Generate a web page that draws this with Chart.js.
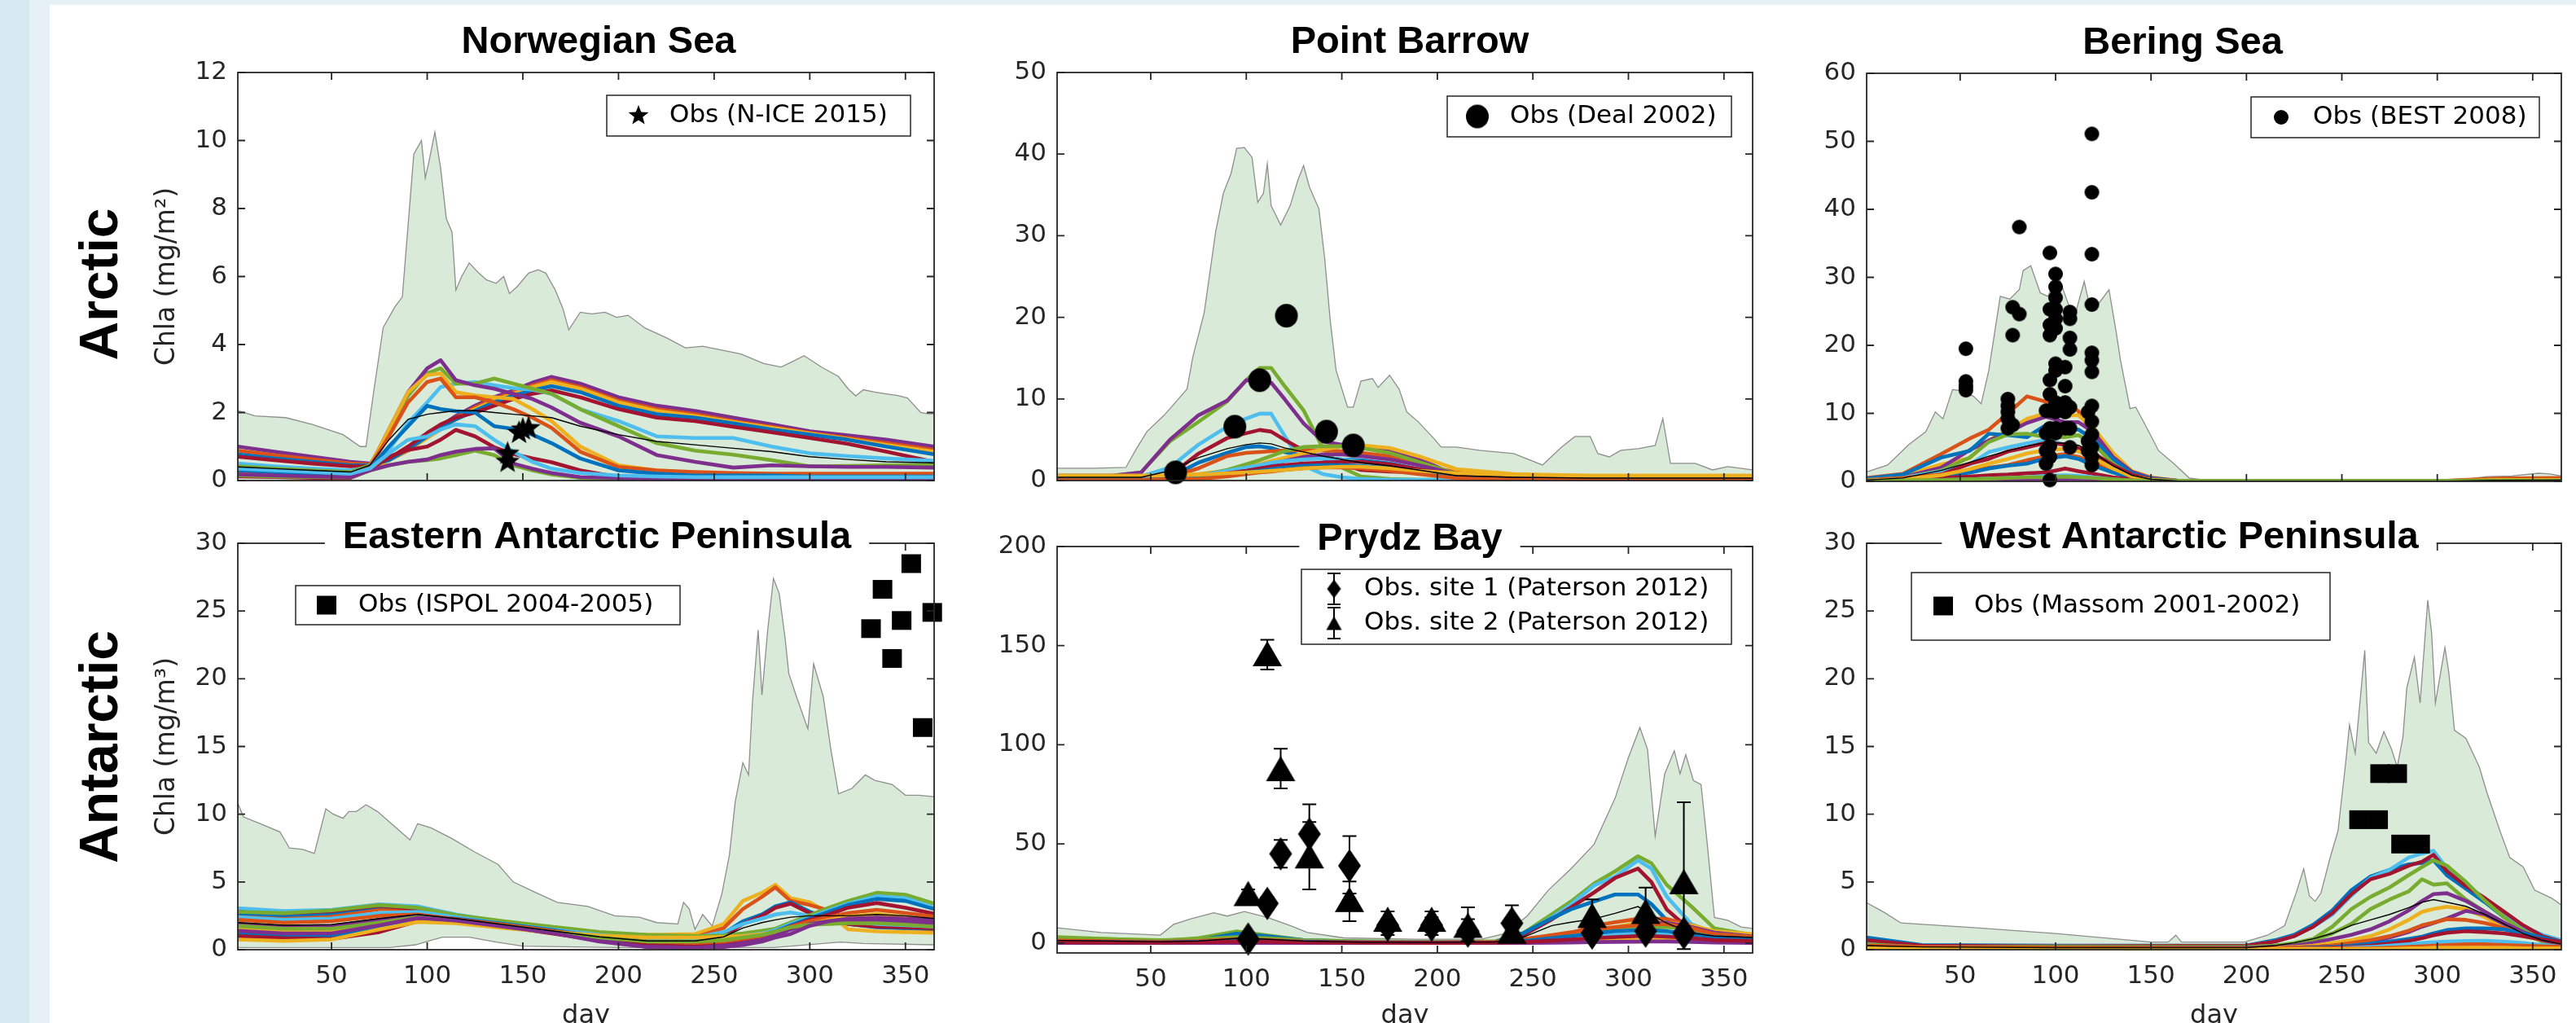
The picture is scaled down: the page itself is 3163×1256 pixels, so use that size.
<!DOCTYPE html>
<html><head><meta charset="utf-8"><title>Chla seasonal cycles</title>
<script src="https://cdn.jsdelivr.net/npm/chart.js@4.4.1/dist/chart.umd.min.js"></script>
<style>
html,body{margin:0;padding:0}
body{width:3163px;height:1256px;position:relative;overflow:hidden;background:#d6e9f0}
#band{position:absolute;left:36px;top:0;width:3127px;height:1256px;background:#e5f1f5}
#sheet{position:absolute;left:61px;top:6px;width:3102px;height:1250px;background:#fff}
canvas{position:absolute;left:0;top:0}
</style></head><body>
<div id="band"></div><div id="sheet"></div>
<canvas id="c1" width="3163" height="1256"></canvas>
<canvas id="c2" width="3163" height="1256"></canvas>
<canvas id="c3" width="3163" height="1256"></canvas>
<canvas id="c4" width="3163" height="1256"></canvas>
<canvas id="c5" width="3163" height="1256"></canvas>
<canvas id="c6" width="3163" height="1256"></canvas>
<script>
// ---------------- DATA ----------------
const dayTicks = [50, 100, 150, 200, 250, 300, 350];

// Norwegian Sea
const nsTitle = 'Norwegian Sea';
const nsYTicks = [0, 2, 4, 6, 8, 10, 12];
const nsEnvDays = [1, 10, 26, 40, 56, 65, 68, 72, 77, 83, 87, 90, 93, 95, 97, 99, 101, 104, 107, 110, 113, 115, 118, 122, 127, 131, 136, 140, 143, 147, 153, 158, 162, 167, 171, 174, 180, 186, 193, 199, 205, 214, 225, 235, 244, 252, 264, 276, 285, 291, 297, 306, 315, 320, 324, 328, 334, 340, 346, 351, 358, 362, 365];
const nsEnvMax = [2.06, 1.9, 1.85, 1.65, 1.35, 1.0, 1.0, 2.6, 4.5, 5.1, 5.4, 7.5, 9.6, 9.8, 10.0, 8.9, 9.4, 10.25, 9.2, 7.7, 7.3, 5.6, 6.0, 6.4, 6.1, 5.9, 5.8, 6.0, 5.5, 5.7, 6.1, 6.2, 6.1, 5.6, 5.05, 4.43, 4.95, 4.9, 4.95, 4.8, 4.86, 4.48, 4.2, 3.9, 3.95, 3.86, 3.72, 3.44, 3.34, 3.5, 3.67, 3.34, 3.06, 2.7, 2.49, 2.67, 2.6, 2.55, 2.5, 2.43, 2.0, 1.96, 1.96];
const nsDays = [1, 20, 40, 60, 70, 80, 90, 100, 107, 115, 125, 135, 145, 155, 165, 180, 200, 220, 240, 260, 280, 300, 320, 340, 365];
const nsL1 = [1.0, 0.85, 0.7, 0.55, 0.5, 0.62, 0.9, 1.3, 1.6, 1.9, 2.2, 2.45, 2.65, 2.88, 3.05, 2.85, 2.45, 2.2, 2.05, 1.85, 1.65, 1.45, 1.33, 1.2, 1.0];
const nsL2 = [0.88, 0.75, 0.62, 0.5, 0.47, 0.6, 0.88, 1.27, 1.55, 1.85, 2.15, 2.4, 2.6, 2.8, 2.95, 2.75, 2.35, 2.1, 1.95, 1.75, 1.58, 1.4, 1.25, 1.1, 0.9];
const nsL3 = [0.3, 0.25, 0.2, 0.2, 0.3, 0.6, 0.9, 1.25, 1.5, 1.8, 2.1, 2.35, 2.55, 2.75, 2.9, 2.7, 2.3, 2.05, 1.9, 1.72, 1.55, 1.38, 1.22, 1.05, 0.85];
const nsL4 = [0.77, 0.65, 0.55, 0.45, 0.45, 0.6, 0.92, 1.3, 1.55, 1.8, 2.05, 2.3, 2.5, 2.65, 2.78, 2.6, 2.2, 1.95, 1.85, 1.68, 1.5, 1.35, 1.2, 1.0, 0.77];
const nsL5 = [0.7, 0.6, 0.5, 0.42, 0.42, 0.65, 1.0, 1.4, 1.65, 1.85, 2.0, 2.2, 2.4, 2.55, 2.65, 2.45, 2.1, 1.85, 1.75, 1.58, 1.42, 1.25, 1.08, 0.85, 0.55];
const nsL6 = [0.5, 0.42, 0.35, 0.3, 0.4, 0.9, 1.7, 2.3, 2.75, 2.85, 2.9, 2.8, 2.72, 2.67, 2.55, 2.1, 1.75, 1.3, 1.25, 1.25, 1.0, 0.8, 0.72, 0.65, 0.58];
const nsL7 = [0.42, 0.35, 0.3, 0.25, 0.45, 1.4, 2.5, 3.15, 3.3, 2.85, 2.85, 3.0, 2.85, 2.7, 2.55, 2.1, 1.6, 1.1, 0.88, 0.76, 0.6, 0.42, 0.43, 0.45, 0.46];
const nsL8 = [0.25, 0.2, 0.15, 0.12, 0.4, 1.5, 2.6, 3.3, 3.54, 2.95, 2.8, 2.7, 2.55, 2.4, 2.15, 1.7, 1.3, 0.75, 0.55, 0.38, 0.45, 0.42, 0.4, 0.4, 0.38];
const nsL9 = [0.15, 0.12, 0.1, 0.1, 0.4, 1.5, 2.6, 3.1, 3.15, 2.6, 2.5, 2.45, 2.4, 2.1, 1.75, 1.0, 0.45, 0.3, 0.22, 0.2, 0.15, 0.15, 0.15, 0.15, 0.15];
const nsL10 = [0.2, 0.15, 0.12, 0.1, 0.4, 1.3, 2.3, 2.9, 3.0, 2.45, 2.45, 2.3, 2.1, 1.85, 1.55, 0.85, 0.4, 0.3, 0.25, 0.22, 0.2, 0.2, 0.2, 0.2, 0.2];
const nsL11 = [0.3, 0.25, 0.2, 0.18, 0.35, 1.0, 1.6, 2.2, 2.1, 2.04, 2.0, 1.6, 1.52, 1.35, 1.1, 0.65, 0.3, 0.2, 0.15, 0.15, 0.15, 0.12, 0.12, 0.12, 0.12];
const nsL12 = [0.12, 0.1, 0.08, 0.08, 0.3, 0.7, 0.9, 1.0, 1.2, 1.49, 1.3, 0.98, 0.78, 0.65, 0.54, 0.3, 0.1, 0.06, 0.05, 0.05, 0.05, 0.05, 0.05, 0.05, 0.05];
const nsL13 = [0.15, 0.12, 0.1, 0.1, 0.3, 0.45, 0.55, 0.6, 0.65, 0.75, 0.88, 0.75, 0.45, 0.3, 0.18, 0.08, 0.05, 0.05, 0.05, 0.05, 0.05, 0.05, 0.05, 0.05, 0.05];
const nsL14 = [0.18, 0.15, 0.12, 0.1, 0.3, 0.45, 0.55, 0.62, 0.75, 0.85, 0.93, 0.95, 0.5, 0.35, 0.22, 0.1, 0.08, 0.06, 0.06, 0.06, 0.06, 0.06, 0.06, 0.06, 0.06];
const nsL15 = [0.35, 0.3, 0.25, 0.2, 0.35, 0.8, 1.2, 1.3, 1.5, 1.65, 1.6, 1.2, 0.85, 0.55, 0.35, 0.22, 0.15, 0.12, 0.1, 0.1, 0.1, 0.1, 0.1, 0.1, 0.1];
const nsMean = [0.4, 0.35, 0.3, 0.25, 0.45, 1.2, 1.8, 1.95, 2.0, 2.05, 2.06, 2.0, 1.95, 1.9, 1.85, 1.6, 1.35, 1.15, 1.05, 0.95, 0.85, 0.7, 0.62, 0.55, 0.52];
const nsObsLabel = 'Obs (N-ICE 2015)';
const nsObsDays = [142, 142, 148, 150, 153];
const nsObsVals = [0.79, 0.55, 1.4, 1.5, 1.54];

// Point Barrow
const pbTitle = 'Point Barrow';
const pbYTicks = [0, 10, 20, 30, 40, 50];
const pbEnvDays = [1, 20, 37, 42, 48, 57, 63, 69, 72, 78, 84, 88, 92, 95, 99, 103, 106, 109, 111, 113, 118, 123, 127, 130, 133, 138, 141, 144, 147, 153, 156, 160, 166, 169, 175, 180, 184, 190, 198, 202, 210, 222, 240, 255, 265, 272, 280, 284, 290, 296, 305, 314, 318, 322, 335, 344, 352, 365];
const pbEnvMax = [1.5, 1.5, 1.6, 3.7, 6.0, 8.0, 9.6, 11.2, 15.1, 20.6, 30.5, 35.2, 37.6, 40.7, 40.8, 39.6, 34.1, 35.2, 38.8, 33.7, 31.3, 33.7, 36.8, 38.6, 36.0, 33.3, 27.3, 19.5, 13.5, 9.0, 9.0, 12.2, 12.5, 11.4, 12.9, 11.2, 8.4, 7.2, 5.2, 4.1, 4.1, 3.7, 3.3, 1.9, 4.1, 5.4, 5.4, 3.3, 2.9, 3.7, 3.9, 4.3, 7.6, 2.1, 2.1, 1.3, 1.7, 1.3];
const pbDays = [1, 30, 45, 60, 75, 90, 100, 107, 113, 120, 130, 140, 150, 160, 175, 190, 210, 240, 280, 320, 365];
const pbL1 = [0.6, 0.6, 1.0, 4.8, 7.2, 9.7, 12.3, 13.8, 13.8, 11.6, 8.6, 4.0, 1.6, 0.5, 0.2, 0.1, 0.1, 0.1, 0.1, 0.1, 0.1];
const pbL2 = [0.6, 0.6, 1.0, 5.0, 8.0, 9.8, 12.3, 12.1, 12.0, 10.0, 7.0, 4.8, 4.4, 4.2, 3.7, 2.7, 0.6, 0.4, 0.2, 0.2, 0.2];
const pbL3 = [0.5, 0.5, 0.5, 1.6, 4.4, 6.6, 7.6, 8.2, 8.2, 5.5, 1.8, 0.8, 0.4, 0.2, 0.1, 0.1, 0.1, 0.1, 0.1, 0.1, 0.1];
const pbL4 = [0.3, 0.3, 0.3, 0.6, 3.3, 5.2, 5.8, 6.2, 6.0, 5.0, 3.7, 2.7, 2.0, 1.3, 1.1, 1.0, 0.3, 0.2, 0.2, 0.2, 0.2];
const pbL5 = [0.3, 0.3, 0.3, 0.4, 2.2, 3.4, 4.1, 4.2, 4.0, 3.5, 3.0, 2.8, 2.6, 2.5, 2.1, 1.4, 0.6, 0.3, 0.3, 0.3, 0.3];
const pbL6 = [0.3, 0.3, 0.3, 0.4, 1.5, 3.0, 3.4, 3.5, 3.6, 3.7, 3.7, 3.7, 3.6, 3.4, 3.0, 2.0, 1.0, 0.6, 0.5, 0.5, 0.5];
const pbL7 = [0.6, 0.6, 0.6, 0.6, 0.8, 1.2, 1.6, 2.0, 2.4, 2.8, 3.3, 3.8, 4.2, 4.3, 4.0, 3.0, 1.4, 0.8, 0.6, 0.6, 0.6];
const pbL8 = [0.2, 0.2, 0.2, 0.3, 0.6, 1.3, 2.0, 2.5, 3.0, 3.6, 4.1, 4.2, 4.2, 4.0, 3.4, 2.3, 0.8, 0.3, 0.2, 0.2, 0.2];
const pbL9 = [0.1, 0.1, 0.1, 0.2, 0.4, 0.8, 1.2, 1.6, 2.0, 2.4, 2.9, 3.2, 3.2, 3.0, 2.6, 1.9, 0.8, 0.3, 0.2, 0.2, 0.2];
const pbL10 = [0.2, 0.2, 0.2, 0.3, 0.6, 1.2, 1.6, 1.9, 2.2, 2.4, 2.6, 2.7, 2.6, 2.3, 1.8, 1.2, 0.5, 0.2, 0.2, 0.2, 0.2];
const pbL11 = [0.1, 0.1, 0.1, 0.2, 0.4, 0.9, 1.2, 1.5, 1.7, 1.9, 2.1, 2.2, 2.3, 2.3, 2.0, 1.4, 0.5, 0.2, 0.1, 0.1, 0.1];
const pbL12 = [0.1, 0.1, 0.1, 0.1, 0.3, 0.7, 1.0, 1.2, 1.4, 1.6, 1.8, 1.9, 1.9, 1.8, 1.5, 1.0, 0.4, 0.1, 0.1, 0.1, 0.1];
const pbL13 = [0.05, 0.05, 0.05, 0.1, 0.2, 0.5, 0.8, 1.0, 1.1, 1.3, 1.5, 1.6, 1.6, 1.5, 1.2, 0.8, 0.3, 0.1, 0.1, 0.1, 0.1];
const pbL14 = [0.6, 0.6, 0.6, 0.6, 0.7, 0.9, 1.0, 1.1, 1.2, 1.3, 1.5, 1.6, 1.7, 1.7, 1.5, 1.2, 0.9, 0.7, 0.6, 0.6, 0.6];
const pbMean = [0.4, 0.4, 0.4, 1.2, 2.8, 3.9, 4.4, 4.6, 4.5, 4.0, 3.5, 3.0, 2.6, 2.2, 1.8, 1.3, 0.6, 0.4, 0.3, 0.3, 0.3];
const pbObsLabel = 'Obs (Deal 2002)';
const pbObsDays = [63, 94, 107, 121, 142, 156];
const pbObsVals = [1.0, 6.6, 12.3, 20.2, 6.0, 4.3];

// Bering Sea
const bsTitle = 'Bering Sea';
const bsYTicks = [0, 10, 20, 30, 40, 50, 60];
const bsEnvDays = [1, 12, 23, 32, 37, 41, 46, 51, 57, 61, 65, 71, 76, 81, 83, 87, 92, 96, 101, 107, 111, 115, 118, 123, 128, 132, 134, 139, 142, 147, 154, 162, 170, 179, 240, 309, 326, 339, 353, 359, 365];
const bsEnvMax = [1.4, 2.4, 5.4, 7.3, 10.2, 9.2, 13.5, 13.3, 12.5, 11.4, 16.3, 27.2, 26.8, 28.2, 31.0, 31.7, 27.7, 27.2, 30.5, 25.8, 25.3, 29.4, 25.6, 26.3, 28.2, 21.5, 17.8, 10.7, 10.9, 8.3, 4.5, 2.6, 0.5, 0.15, 0.1, 0.1, 0.7, 0.8, 1.2, 1.1, 0.8];
const bsDays = [1, 20, 40, 55, 65, 75, 85, 95, 105, 112, 120, 130, 140, 150, 165, 200, 300, 330, 365];
const bsL1 = [0.5, 1.1, 4.0, 6.3, 7.6, 10.0, 12.5, 11.7, 11.8, 10.3, 6.7, 3.8, 1.4, 0.5, 0.05, 0.02, 0.02, 0.3, 0.4];
const bsL2 = [0.3, 0.8, 2.5, 3.4, 6.0, 7.5, 9.2, 10.0, 9.7, 9.7, 7.8, 4.2, 1.5, 0.6, 0.05, 0.02, 0.02, 0.2, 0.3];
const bsL3 = [0.2, 0.6, 2.0, 4.6, 6.0, 7.2, 8.6, 9.5, 8.7, 8.7, 7.2, 3.6, 1.4, 0.5, 0.05, 0.02, 0.02, 0.1, 0.2];
const bsL4 = [0.4, 1.0, 3.5, 4.5, 7.0, 6.8, 6.5, 8.3, 7.9, 7.6, 6.2, 3.3, 1.2, 0.4, 0.05, 0.02, 0.02, 0.2, 0.3];
const bsL5 = [0.2, 0.5, 1.6, 3.5, 5.8, 6.9, 7.0, 6.5, 6.5, 6.8, 5.5, 2.6, 0.9, 0.3, 0.05, 0.02, 0.02, 0.2, 0.2];
const bsL6 = [0.2, 0.5, 1.5, 2.5, 4.3, 5.0, 5.6, 6.1, 5.4, 4.8, 3.8, 2.2, 1.0, 0.3, 0.05, 0.02, 0.02, 0.1, 0.2];
const bsL7 = [0.1, 0.3, 1.0, 2.6, 3.3, 4.4, 5.0, 5.7, 5.4, 4.9, 4.1, 2.4, 1.0, 0.3, 0.05, 0.02, 0.02, 0.1, 0.1];
const bsL8 = [0.2, 0.5, 1.0, 1.5, 2.0, 2.4, 3.1, 3.7, 4.0, 3.6, 2.7, 1.7, 0.7, 0.2, 0.05, 0.02, 0.02, 0.4, 0.5];
const bsL9 = [0.1, 0.3, 0.8, 1.3, 1.9, 2.3, 2.6, 3.4, 3.7, 3.3, 2.3, 1.3, 0.5, 0.2, 0.05, 0.02, 0.02, 0.1, 0.2];
const bsL10 = [0.05, 0.2, 0.5, 0.7, 0.9, 1.0, 1.2, 1.3, 1.9, 1.5, 1.1, 0.6, 0.3, 0.1, 0.02, 0.02, 0.02, 0.1, 0.1];
const bsL11 = [0.05, 0.1, 0.2, 0.3, 0.4, 0.5, 0.6, 0.8, 0.9, 0.8, 0.6, 0.3, 0.1, 0.05, 0.02, 0.02, 0.02, 0.05, 0.1];
const bsL12 = [0.1, 0.3, 0.9, 1.8, 2.6, 3.3, 4.1, 4.6, 4.8, 4.4, 3.4, 1.9, 0.7, 0.2, 0.05, 0.02, 0.02, 0.2, 0.2];
const bsL13 = [0.02, 0.05, 0.1, 0.15, 0.2, 0.25, 0.3, 0.35, 0.4, 0.35, 0.3, 0.2, 0.1, 0.05, 0.02, 0.02, 0.02, 0.05, 0.05];
const bsL14 = [0.05, 0.1, 0.2, 0.3, 0.4, 0.5, 0.6, 0.6, 0.7, 0.6, 0.5, 0.3, 0.15, 0.08, 0.05, 0.05, 0.05, 0.1, 0.1];
const bsMean = [0.2, 0.5, 1.6, 2.8, 3.7, 4.5, 5.2, 5.7, 5.6, 5.3, 4.2, 2.3, 0.9, 0.3, 0.04, 0.02, 0.02, 0.15, 0.2];
const bsObsLabel = 'Obs (BEST 2008)';
const bsObsDays = [53, 53, 53, 53, 75, 75, 75, 75, 75, 77.5, 77.5, 77.5, 81, 81, 95, 95, 95, 95, 97, 97, 97, 97, 97, 97, 97, 97, 97, 97, 97, 100, 100, 100, 100, 100, 100, 100, 100, 100, 100, 100, 100, 105, 105, 105, 105, 105, 107.5, 107.5, 107.5, 107.5, 107.5, 107.5, 107.5, 117, 117, 117, 119, 119, 119, 119, 119, 119, 119, 119, 119, 119, 119, 119, 119];
const bsObsVals = [19.5, 14.7, 13.4, 14.0, 12.1, 11.1, 10.2, 9.2, 7.8, 25.6, 21.5, 8.3, 37.4, 24.6, 10.4, 7.1, 4.5, 2.6, 33.6, 25.3, 23.0, 21.5, 14.9, 12.8, 10.4, 7.8, 5.2, 3.6, 0.2, 30.5, 28.6, 27.0, 25.3, 23.9, 22.5, 17.3, 16.3, 11.6, 10.2, 7.8, 7.1, 16.8, 14.0, 11.6, 10.2, 7.8, 24.9, 23.9, 21.1, 19.4, 10.9, 7.8, 5.0, 10.2, 5.9, 4.5, 51.1, 42.5, 33.4, 26.0, 18.9, 17.8, 16.1, 11.1, 8.8, 6.9, 5.0, 3.6, 2.4];

// Eastern Antarctic Peninsula
const eaTitle = 'Eastern Antarctic Peninsula';
const eaYTicks = [0, 5, 10, 15, 20, 25, 30];
const eaEnvDays = [1, 4, 11, 23, 28, 35, 41, 47, 51, 56, 59, 63, 68, 74, 83, 91, 95, 102, 113, 125, 137, 145, 157, 168, 184, 198, 211, 220, 231, 234, 237, 240, 244, 249, 254, 258, 261, 265, 268, 270, 273, 275, 278, 281, 284, 287, 289, 293, 299, 302, 307, 311, 315, 322, 329, 334, 343, 350, 357, 365];
const eaEnvMax = [10.8, 9.8, 9.4, 8.7, 7.5, 7.4, 7.1, 10.4, 10.0, 9.7, 10.2, 10.2, 10.7, 10.2, 9.1, 8.1, 9.3, 9.0, 8.2, 7.2, 6.3, 5.0, 4.2, 3.5, 3.2, 2.5, 2.4, 2.0, 1.9, 3.5, 3.0, 1.5, 2.6, 1.75, 4.1, 7.0, 10.9, 13.8, 12.9, 18.2, 23.6, 18.8, 23.6, 27.4, 26.3, 23.1, 20.4, 18.7, 16.3, 21.1, 18.7, 14.8, 11.5, 11.9, 12.9, 12.5, 12.2, 11.4, 11.4, 11.3];
const eaEnvMinDays = [1, 48, 80, 94, 101, 108, 122, 136, 150, 200, 281, 316, 328, 365];
const eaEnvMin = [0.16, 0.16, 0.16, 0.36, 0.66, 0.92, 0.92, 0.56, 0.26, 0.16, 0.16, 0.56, 0.46, 0.36];
const eaDays = [1, 25, 50, 75, 95, 115, 140, 165, 190, 215, 240, 255, 265, 275, 282, 290, 300, 310, 320, 335, 350, 365];
const eaL1 = [1.6, 1.4, 1.3, 1.7, 2.3, 2.1, 1.7, 1.45, 1.2, 1.1, 1.15, 1.9, 3.6, 4.2, 4.8, 3.8, 3.5, 2.7, 1.5, 1.35, 1.3, 1.25];
const eaL2 = [2.6, 2.4, 2.5, 3.0, 3.0, 2.5, 2.0, 1.55, 1.1, 0.8, 0.9, 1.6, 3.0, 3.9, 4.6, 3.6, 3.3, 2.9, 1.9, 1.7, 1.6, 1.5];
const eaL3 = [2.7, 2.55, 2.7, 3.2, 3.1, 2.4, 1.8, 1.3, 0.8, 0.5, 0.55, 1.2, 2.1, 2.6, 3.2, 3.5, 2.8, 2.3, 1.9, 1.66, 1.6, 1.56];
const eaL4 = [2.9, 2.7, 2.85, 3.25, 3.0, 2.3, 1.7, 1.2, 0.7, 0.4, 0.45, 1.0, 1.9, 2.5, 3.1, 3.4, 2.7, 2.4, 1.9, 1.7, 1.65, 1.6];
const eaL5 = [3.07, 2.85, 2.95, 3.35, 3.2, 2.6, 2.05, 1.6, 1.2, 0.9, 0.9, 1.3, 1.9, 2.3, 2.6, 2.75, 2.5, 2.3, 2.1, 1.9, 1.8, 1.7];
const eaL6 = [2.8, 2.7, 2.9, 3.3, 3.1, 2.55, 2.1, 1.7, 1.3, 1.1, 1.0, 1.05, 1.2, 1.4, 1.55, 2.0, 2.55, 3.1, 3.6, 4.2, 4.06, 3.4];
const eaL7 = [2.4, 2.2, 2.3, 2.7, 2.8, 2.4, 1.9, 1.5, 1.1, 0.8, 0.7, 0.8, 1.0, 1.2, 1.45, 1.9, 2.4, 2.9, 3.4, 3.95, 3.8, 3.1];
const eaL8 = [1.2, 1.0, 1.0, 1.6, 2.4, 2.3, 1.9, 1.45, 0.95, 0.55, 0.45, 0.6, 0.85, 1.1, 1.35, 1.8, 2.3, 2.8, 3.3, 3.75, 3.6, 3.0];
const eaL9 = [1.0, 0.85, 0.8, 1.3, 2.1, 2.2, 1.8, 1.35, 0.85, 0.35, 0.25, 0.45, 0.7, 0.95, 1.25, 1.7, 2.2, 2.6, 3.1, 3.45, 3.1, 2.65];
const eaL10 = [2.2, 2.0, 2.1, 2.5, 2.6, 2.25, 1.85, 1.4, 0.95, 0.6, 0.5, 0.6, 0.8, 1.0, 1.3, 1.7, 2.1, 2.4, 2.7, 2.95, 2.7, 2.45];
const eaL11 = [0.75, 0.65, 0.75, 1.5, 2.05, 1.95, 1.6, 1.3, 1.05, 0.9, 0.9, 0.95, 1.0, 1.15, 1.3, 1.6, 1.9, 2.2, 2.45, 2.65, 2.4, 2.1];
const eaL12 = [1.9, 1.7, 1.75, 2.2, 2.5, 2.2, 1.75, 1.3, 0.7, 0.2, 0.15, 0.3, 0.5, 0.75, 1.05, 1.5, 1.9, 2.1, 2.15, 2.15, 2.05, 1.96];
const eaL13 = [1.75, 1.55, 1.55, 2.0, 2.4, 2.15, 1.75, 1.3, 0.9, 0.6, 0.6, 0.7, 0.9, 1.1, 1.35, 1.65, 1.85, 1.9, 1.95, 1.95, 1.85, 1.7];
const eaL14 = [1.4, 1.2, 1.2, 1.8, 2.35, 2.15, 1.7, 1.25, 0.6, 0.2, 0.15, 0.2, 0.35, 0.6, 0.9, 1.16, 1.76, 2.1, 2.3, 2.37, 2.3, 2.17];
const eaMean = [2.0, 1.8, 1.85, 2.3, 2.6, 2.3, 1.85, 1.4, 0.95, 0.65, 0.65, 0.95, 1.6, 2.0, 2.2, 2.4, 2.5, 2.5, 2.5, 2.6, 2.5, 2.3];
const eaObsLabel = 'Obs (ISPOL 2004-2005)';
const eaObsDays = [332, 338, 343, 348, 353, 359, 364];
const eaObsVals = [23.7, 26.6, 21.5, 24.3, 28.5, 16.4, 24.9];

// Prydz Bay
const pzTitle = 'Prydz Bay';
const pzYTicks = [0, 50, 100, 150, 200];
const pzEnvDays = [1, 24, 55, 62, 71, 83, 90, 99, 111, 123, 132, 151, 188, 223, 235, 247, 258, 270, 282, 293, 300, 306, 310, 314, 319, 324, 327, 330, 334, 338, 341, 345, 352, 359, 365];
const pzEnvMax = [7.7, 5.3, 4.0, 9.4, 12.2, 15.3, 13.6, 15.9, 12.9, 8.8, 5.3, 2.6, 1.9, 1.9, 4.7, 13.6, 26.6, 37.5, 49.8, 73.0, 93.6, 108.7, 97.7, 53.9, 85.4, 97.0, 85.4, 95.0, 82.0, 80.0, 52.5, 12.9, 11.5, 8.1, 7.4];
const pzDays = [1, 30, 55, 75, 95, 110, 130, 160, 200, 230, 245, 260, 270, 282, 293, 305, 312, 320, 333, 345, 365];
const pzL1 = [3.0, 2.0, 1.0, 2.5, 5.9, 4.0, 1.5, 0.8, 0.5, 0.8, 5.0, 14.5, 21.0, 30.0, 36.2, 43.8, 40.3, 29.4, 18.4, 7.4, 4.0];
const pzL2 = [2.0, 1.5, 0.8, 1.5, 3.5, 3.0, 1.5, 0.6, 0.3, 0.6, 4.5, 13.0, 19.5, 29.0, 33.5, 41.7, 37.6, 23.5, 9.5, 5.0, 4.0];
const pzL3 = [1.0, 0.7, 0.5, 1.0, 2.6, 2.0, 1.0, 0.4, 0.2, 0.5, 4.0, 12.0, 18.0, 25.5, 32.8, 37.6, 30.8, 17.0, 6.0, 3.5, 3.0];
const pzL4 = [1.5, 1.0, 0.8, 1.5, 4.7, 3.5, 1.5, 0.5, 0.2, 0.5, 5.0, 12.5, 17.0, 21.0, 24.5, 24.5, 19.7, 11.5, 4.7, 2.5, 2.0];
const pzL5 = [2.0, 1.5, 1.0, 1.5, 2.5, 2.0, 1.0, 0.5, 0.4, 0.6, 2.0, 3.5, 5.0, 8.8, 10.5, 12.2, 12.2, 12.2, 9.0, 5.5, 4.0];
const pzL6 = [0.5, 0.3, 0.2, 0.4, 1.0, 0.8, 0.5, 0.3, 0.2, 0.3, 1.0, 2.0, 3.5, 6.0, 8.0, 10.2, 10.2, 10.2, 9.0, 6.0, 4.5];
const pzL7 = [0.3, 0.2, 0.1, 0.2, 0.5, 0.4, 0.2, 0.1, 0.1, 0.2, 0.8, 1.8, 3.0, 5.0, 7.0, 9.0, 10.0, 10.2, 8.1, 5.3, 3.3];
const pzL8 = [2.5, 2.0, 1.5, 2.0, 3.0, 2.5, 1.5, 0.8, 0.5, 0.6, 1.5, 2.5, 3.5, 5.0, 6.5, 7.5, 8.0, 8.1, 7.0, 4.5, 3.0];
const pzL9 = [0.8, 0.6, 0.4, 0.8, 1.5, 1.2, 0.8, 0.4, 0.3, 0.4, 1.0, 1.8, 2.5, 3.5, 4.2, 4.7, 4.7, 4.2, 3.0, 2.2, 2.0];
const pzL10 = [0.2, 0.1, 0.1, 0.2, 0.3, 0.3, 0.2, 0.1, 0.1, 0.1, 0.3, 0.8, 1.2, 1.8, 2.2, 2.6, 2.6, 2.4, 1.8, 1.0, 0.5];
const pzL11 = [0.05, 0.05, 0.05, 0.05, 0.1, 0.1, 0.05, 0.05, 0.05, 0.05, 0.1, 0.2, 0.3, 0.5, 0.6, 0.7, 0.8, 0.8, 0.6, 0.3, 0.1];
const pzL12 = [1.2, 0.9, 0.6, 1.0, 2.0, 1.6, 0.8, 0.4, 0.3, 0.5, 2.0, 4.0, 5.5, 7.0, 8.0, 9.0, 9.5, 9.5, 7.5, 4.5, 3.0];
const pzL13 = [0.6, 0.4, 0.3, 0.6, 1.2, 1.0, 0.6, 0.3, 0.2, 0.3, 1.0, 2.5, 3.5, 5.0, 6.0, 6.5, 6.5, 6.0, 4.5, 3.0, 2.0];
const pzL14 = [0.4, 0.3, 0.2, 0.4, 0.8, 0.7, 0.4, 0.2, 0.1, 0.2, 0.5, 1.2, 1.8, 2.5, 3.0, 3.5, 3.5, 3.2, 2.5, 1.5, 1.0];
const pzMean = [1.3, 1.0, 0.6, 1.0, 2.4, 2.0, 1.0, 0.4, 0.3, 0.5, 3.0, 8.8, 10.5, 12.2, 15.0, 18.4, 14.5, 10.0, 5.0, 3.5, 2.8];
const pzObs1Label = 'Obs. site 1 (Paterson 2012)';
const pzObs2Label = 'Obs. site 2 (Paterson 2012)';
const pzObsDays = [101, 111, 118, 133, 154, 174, 197, 216, 239, 281, 309, 329];
const pzObs1Vals = [2, 20, 45, 55, 39, 9, 9, 6, 10, 5, 6, 5];
const pzObs1Lo = [0, 17, 38, 40, 25, 6, 6, 1, 4, 2, 3, 2];
const pzObs1Hi = [4, 23, 52, 70, 54, 12, 13, 18, 19, 8, 9, 8];
const pzObs2Vals = [25, 146, 88, 44, 22, 12, 12, 9, 6, 14, 16, 31];
const pzObs2Lo = [23, 138, 78, 27, 11, 4, 4, 6, 3, 5, 5, -3];
const pzObs2Hi = [27, 153, 98, 61, 31, 16, 16, 12, 9, 22, 28, 71];

// West Antarctic Peninsula
const waTitle = 'West Antarctic Peninsula';
const waYTicks = [0, 5, 10, 15, 20, 25, 30];
const waEnvDays = [1, 10, 19, 60, 100, 150, 159, 163, 166, 199, 211, 220, 226, 230, 233, 236, 239, 244, 248, 252, 254, 257, 262, 264, 268, 272, 276, 279, 282, 284, 288, 291, 295, 297, 299, 304, 306, 309, 315, 322, 326, 333, 338, 345, 351, 360, 365];
const waEnvMax = [3.47, 2.77, 1.97, 1.6, 1.2, 0.56, 0.56, 1.07, 0.56, 0.56, 1.07, 1.77, 4.17, 5.97, 3.97, 3.57, 4.17, 6.87, 8.78, 13.8, 16.6, 14.5, 22.1, 15.3, 14.5, 16.1, 14.8, 13.5, 15.7, 19.3, 21.6, 18.2, 25.8, 23.4, 18.2, 22.3, 20.5, 16.2, 15.6, 13.5, 11.6, 8.7, 6.8, 6.1, 4.4, 3.8, 3.3];
const waDays = [1, 30, 100, 200, 215, 225, 235, 245, 255, 265, 275, 285, 292, 298, 305, 315, 325, 335, 345, 355, 365];
const waL1 = [0.9, 0.35, 0.3, 0.3, 0.7, 1.1, 1.85, 2.9, 4.4, 5.4, 5.9, 6.3, 6.4, 6.6, 5.5, 4.5, 3.5, 2.4, 1.5, 1.0, 0.66];
const waL2 = [0.6, 0.3, 0.25, 0.3, 0.6, 1.0, 1.7, 2.6, 4.0, 5.3, 5.9, 6.8, 7.1, 7.3, 6.0, 4.8, 3.7, 2.6, 1.7, 1.1, 0.7];
const waL3 = [0.7, 0.3, 0.25, 0.3, 0.6, 1.0, 1.7, 2.7, 4.1, 5.2, 5.6, 6.2, 6.5, 7.0, 5.8, 4.7, 3.8, 2.8, 1.8, 1.0, 0.6];
const waL4 = [0.4, 0.2, 0.2, 0.2, 0.3, 0.5, 0.8, 1.7, 3.0, 3.9, 4.6, 5.5, 6.1, 6.6, 6.2, 5.0, 3.6, 2.4, 1.4, 0.8, 0.4];
const waL5 = [0.3, 0.2, 0.2, 0.2, 0.3, 0.4, 0.7, 1.2, 1.9, 3.0, 3.7, 4.3, 5.2, 4.8, 4.9, 3.7, 2.8, 2.0, 1.2, 0.6, 0.4];
const waL6 = [0.3, 0.2, 0.15, 0.15, 0.2, 0.3, 0.5, 0.8, 1.1, 1.5, 2.1, 2.9, 3.6, 4.1, 4.17, 3.6, 2.8, 2.0, 1.3, 0.8, 0.5];
const waL7 = [0.2, 0.1, 0.1, 0.1, 0.15, 0.2, 0.3, 0.5, 0.7, 1.0, 1.5, 2.2, 2.8, 3.0, 3.17, 3.0, 2.4, 1.6, 1.0, 0.7, 0.5];
const waL8 = [0.2, 0.1, 0.1, 0.1, 0.1, 0.15, 0.2, 0.3, 0.4, 0.6, 0.9, 1.3, 1.7, 1.97, 2.3, 2.87, 2.6, 1.9, 1.2, 0.7, 0.4];
const waL9 = [0.2, 0.1, 0.1, 0.1, 0.1, 0.15, 0.2, 0.3, 0.5, 0.7, 1.0, 1.4, 1.8, 2.0, 2.25, 2.2, 1.97, 1.6, 1.2, 0.8, 0.46];
const waL10 = [0.1, 0.1, 0.1, 0.1, 0.1, 0.1, 0.15, 0.2, 0.3, 0.45, 0.6, 0.8, 0.96, 1.2, 1.45, 1.57, 1.57, 1.5, 1.2, 0.9, 0.56];
const waL11 = [0.1, 0.1, 0.1, 0.1, 0.1, 0.1, 0.1, 0.15, 0.2, 0.3, 0.45, 0.65, 0.85, 1.07, 1.25, 1.37, 1.3, 1.2, 1.0, 0.75, 0.56];
const waL12 = [0.1, 0.05, 0.05, 0.05, 0.05, 0.05, 0.05, 0.1, 0.15, 0.2, 0.3, 0.4, 0.5, 0.56, 0.6, 0.65, 0.66, 0.6, 0.5, 0.35, 0.2];
const waL13 = [0.3, 0.2, 0.15, 0.1, 0.1, 0.1, 0.1, 0.1, 0.1, 0.1, 0.15, 0.2, 0.25, 0.3, 0.35, 0.4, 0.4, 0.35, 0.3, 0.25, 0.2];
const waL14 = [0.1, 0.05, 0.05, 0.05, 0.05, 0.05, 0.05, 0.05, 0.05, 0.05, 0.05, 0.1, 0.1, 0.15, 0.15, 0.15, 0.15, 0.15, 0.1, 0.1, 0.1];
const waMean = [0.3, 0.2, 0.15, 0.15, 0.3, 0.5, 0.8, 1.2, 1.8, 2.2, 2.6, 3.1, 3.5, 3.7, 3.5, 3.2, 2.6, 1.9, 1.2, 0.7, 0.4];
const waObsLabel = 'Obs (Massom 2001-2002)';
const waObsDays = [259, 269, 270, 279, 281, 291];
const waObsVals = [9.6, 9.6, 13.0, 13.0, 7.8, 7.8];

// ---------------- STYLE / RENDER ----------------
const PAL = {blue:'#0072BD', orange:'#D95319', yellow:'#EDB120', purple:'#7E2F8E', green:'#77AC30', lblue:'#4DBEEE', dred:'#A2142F'};
const ENV_FILL = '#d9ebd8', ENV_LINE = '#8e8e8e', AX = '#262626';
const TICKFONT = '"DejaVu Sans", "Liberation Sans", sans-serif';
const TITLEFONT = 'bold 47px "Liberation Sans", Arial, sans-serif';
const LINE_W = 4.6;

function marker(kind, w, h) {
  const c = document.createElement('canvas');
  c.width = Math.ceil(w) + 2; c.height = Math.ceil(h) + 2;
  const g = c.getContext('2d');
  g.fillStyle = '#000'; g.translate(c.width / 2, c.height / 2); g.beginPath();
  if (kind === 'star') {
    for (let i = 0; i < 10; i++) { const r = (i % 2) ? w / 2 * 0.42 : w / 2; const a = -Math.PI / 2 + i * Math.PI / 5; g.lineTo(r * Math.cos(a), r * Math.sin(a)); }
  } else if (kind === 'diamond') { g.moveTo(0, -h / 2); g.lineTo(w / 2, 0); g.lineTo(0, h / 2); g.lineTo(-w / 2, 0); }
  else if (kind === 'triangle') { g.moveTo(0, -h / 2); g.lineTo(w / 2, h / 2); g.lineTo(-w / 2, h / 2); }
  else if (kind === 'square') { g.rect(-w / 2, -h / 2, w, h); }
  else { g.ellipse(0, 0, w / 2, h / 2, 0, 0, Math.PI * 2); }
  g.closePath(); g.fill();
  return c;
}
const M = {
  star: marker('star', 31, 31), starL: marker('star', 26, 26),
  bigDot: marker('circle', 28, 29), bigDotL: marker('circle', 28, 29),
  dot: marker('circle', 18, 18), dotL: marker('circle', 18, 18),
  sq: marker('square', 24, 23), sqL: marker('square', 24, 23),
  dia: marker('diamond', 28, 41), diaL: marker('diamond', 17, 23),
  tri: marker('triangle', 36, 31), triL: marker('triangle', 19, 17)
};
const pts = (xs, ys) => xs.map((x, i) => ({x: x, y: ys[i]}));

const PANELS = [
  {id:'c1', area:[292, 89, 1147, 590], ymin:0, ymax:12, yticks:nsYTicks, xlab:false, ytitle:'Chla (mg/m²)', row:'Arctic', rowY:349,
   title:nsTitle, tx:735, tbase:65, tbg:false, env:[nsEnvDays, nsEnvMax], lineDays:nsDays,
   lines:[nsL1,nsL2,nsL3,nsL4,nsL5,nsL6,nsL7,nsL8,nsL9,nsL10,nsL11,nsL12,nsL13,nsL14,nsL15],
   colors:['purple','orange','yellow','blue','dred','lblue','green','purple','yellow','orange','blue','dred','green','purple','lblue'], mean:nsMean,
   obs:[{days:nsObsDays, vals:nsObsVals, m:M.star, ml:M.starL, label:nsObsLabel}],
   legend:{box:[745, 117, 1118, 167], mx:784, tx:822, rows:[142]}},
  {id:'c2', area:[1298, 89, 2152, 590], ymin:0, ymax:50, yticks:pbYTicks, xlab:false,
   title:pbTitle, tx:1731, tbase:65, tbg:false, env:[pbEnvDays, pbEnvMax], lineDays:pbDays,
   lines:[pbL1,pbL2,pbL3,pbL4,pbL5,pbL6,pbL7,pbL8,pbL9,pbL10,pbL11,pbL12,pbL13,pbL14],
   colors:['green','purple','lblue','dred','blue','orange','yellow','green','purple','lblue','dred','blue','orange','yellow'], mean:pbMean,
   obs:[{days:pbObsDays, vals:pbObsVals, m:M.bigDot, ml:M.bigDotL, label:pbObsLabel}],
   legend:{box:[1777, 118, 2126, 168], mx:1814, tx:1854, rows:[143]}},
  {id:'c3', area:[2292, 90, 3145, 591], ymin:0, ymax:60, yticks:bsYTicks, xlab:false,
   title:bsTitle, tx:2680, tbase:66, tbg:false, env:[bsEnvDays, bsEnvMax], lineDays:bsDays,
   lines:[bsL1,bsL2,bsL3,bsL4,bsL5,bsL6,bsL7,bsL8,bsL9,bsL10,bsL11,bsL12,bsL13,bsL14],
   colors:['orange','yellow','purple','blue','green','lblue','dred','orange','blue','dred','lblue','yellow','purple','green'], mean:bsMean,
   obs:[{days:bsObsDays, vals:bsObsVals, m:M.dot, ml:M.dotL, label:bsObsLabel}],
   legend:{box:[2764, 119, 3118, 169], mx:2801, tx:2840, rows:[144]}},
  {id:'c4', area:[292, 667, 1147, 1166], ymin:0, ymax:30, yticks:eaYTicks, xlab:true, ytitle:'Chla (mg/m³)', row:'Antarctic', rowY:917,
   title:eaTitle, tx:733, tbase:673, tbg:true, env:[eaEnvDays, eaEnvMax], envMin:[eaEnvMinDays, eaEnvMin], lineDays:eaDays,
   lines:[eaL1,eaL2,eaL3,eaL4,eaL5,eaL6,eaL7,eaL8,eaL9,eaL10,eaL11,eaL12,eaL13,eaL14],
   colors:['yellow','orange','blue','dred','lblue','green','lblue','blue','dred','orange','yellow','purple','green','purple'], mean:eaMean,
   obs:[{days:eaObsDays, vals:eaObsVals, m:M.sq, ml:M.sqL, label:eaObsLabel}],
   legend:{box:[363, 719, 835, 767], mx:401, tx:440, rows:[743]}},
  {id:'c5', area:[1298, 671, 2152, 1170], ymin:-5, ymax:200, yticks:pzYTicks, xlab:true,
   title:pzTitle, tx:1731, tbase:675, tbg:true, env:[pzEnvDays, pzEnvMax], lineDays:pzDays,
   lines:[pzL1,pzL2,pzL3,pzL4,pzL5,pzL6,pzL7,pzL8,pzL9,pzL10,pzL11,pzL12,pzL13,pzL14],
   colors:['green','lblue','dred','blue','orange','yellow','purple','green','lblue','yellow','purple','orange','blue','dred'], mean:pzMean,
   obs:[{days:pzObsDays, vals:pzObs1Vals, lo:pzObs1Lo, hi:pzObs1Hi, m:M.dia, ml:M.diaL, label:pzObs1Label},
        {days:pzObsDays, vals:pzObs2Vals, lo:pzObs2Lo, hi:pzObs2Hi, m:M.tri, ml:M.triL, label:pzObs2Label}],
   legend:{box:[1598, 699, 2126, 791], mx:1638, tx:1675, rows:[723, 765], err:true}},
  {id:'c6', area:[2292, 667, 3145, 1166], ymin:0, ymax:30, yticks:waYTicks, xlab:true,
   title:waTitle, tx:2688, tbase:673, tbg:true, env:[waEnvDays, waEnvMax], lineDays:waDays,
   lines:[waL1,waL2,waL3,waL4,waL5,waL6,waL7,waL8,waL9,waL10,waL11,waL12,waL13,waL14],
   colors:['blue','lblue','dred','green','green','purple','yellow','purple','orange','blue','dred','lblue','orange','yellow'], mean:waMean,
   obs:[{days:waObsDays, vals:waObsVals, m:M.sq, ml:M.sqL, label:waObsLabel}],
   legend:{box:[2347, 703, 2861, 786], mx:2386, tx:2424, rows:[744]}}
];

function makePlugin(cfg) {
  const TL = 9;
  return {
    id: 'matlab_' + cfg.id,
    afterDatasetsDraw(chart) {
      const ctx = chart.ctx, a = chart.chartArea, xs = chart.scales.x, ys = chart.scales.y;
      ctx.save();
      cfg.obs.forEach(o => {
        if (!o.lo) return;
        ctx.strokeStyle = '#000'; ctx.lineWidth = 2; ctx.beginPath();
        o.days.forEach((d, i) => {
          const px = xs.getPixelForValue(d), y1 = ys.getPixelForValue(o.lo[i]), y2 = ys.getPixelForValue(o.hi[i]);
          ctx.moveTo(px, y1); ctx.lineTo(px, y2);
          ctx.moveTo(px - 8.5, y1); ctx.lineTo(px + 8.5, y1);
          ctx.moveTo(px - 8.5, y2); ctx.lineTo(px + 8.5, y2);
        });
        ctx.stroke();
      });
      ctx.strokeStyle = AX; ctx.lineWidth = 1.8;
      ctx.strokeRect(a.left, a.top, a.right - a.left, a.bottom - a.top);
      ctx.beginPath();
      dayTicks.forEach(v => { const px = xs.getPixelForValue(v); ctx.moveTo(px, a.bottom); ctx.lineTo(px, a.bottom - TL); ctx.moveTo(px, a.top); ctx.lineTo(px, a.top + TL); });
      cfg.yticks.forEach(v => { const py = ys.getPixelForValue(v); ctx.moveTo(a.left, py); ctx.lineTo(a.left + TL, py); ctx.moveTo(a.right, py); ctx.lineTo(a.right - TL, py); });
      ctx.stroke();
      ctx.restore();
    },
    afterDraw(chart) {
      const ctx = chart.ctx, a = chart.chartArea;
      ctx.save();
      ctx.font = TITLEFONT; ctx.textAlign = 'center'; ctx.textBaseline = 'alphabetic';
      if (cfg.tbg) {
        const w = ctx.measureText(cfg.title).width;
        ctx.fillStyle = '#fff'; ctx.fillRect(cfg.tx - w / 2 - 22, a.top - 5, w + 44, 16);
      }
      ctx.fillStyle = '#000'; ctx.fillText(cfg.title, cfg.tx, cfg.tbase);
      if (cfg.row) {
        ctx.save(); ctx.translate(144, cfg.rowY); ctx.rotate(-Math.PI / 2);
        ctx.font = 'bold 66px "Liberation Sans", Arial, sans-serif'; ctx.textAlign = 'center'; ctx.textBaseline = 'alphabetic';
        ctx.fillStyle = '#000'; ctx.fillText(cfg.row, 0, 0); ctx.restore();
      }
      const lg = cfg.legend, b = lg.box;
      ctx.fillStyle = '#fff'; ctx.fillRect(b[0], b[1], b[2] - b[0], b[3] - b[1]);
      ctx.strokeStyle = AX; ctx.lineWidth = 1.5; ctx.strokeRect(b[0], b[1], b[2] - b[0], b[3] - b[1]);
      cfg.obs.forEach((o, i) => {
        const y = lg.rows[i];
        if (lg.err) {
          ctx.strokeStyle = '#000'; ctx.lineWidth = 2; ctx.beginPath();
          ctx.moveTo(lg.mx, y - 19); ctx.lineTo(lg.mx, y + 19);
          ctx.moveTo(lg.mx - 8, y - 19); ctx.lineTo(lg.mx + 8, y - 19);
          ctx.moveTo(lg.mx - 8, y + 19); ctx.lineTo(lg.mx + 8, y + 19);
          ctx.stroke();
        }
        ctx.drawImage(o.ml, lg.mx - o.ml.width / 2, y - o.ml.height / 2);
        ctx.fillStyle = '#000'; ctx.font = '31px ' + TICKFONT; ctx.textAlign = 'left'; ctx.textBaseline = 'middle';
        ctx.fillText(o.label, lg.tx, y);
      });
      ctx.restore();
    }
  };
}

function build(cfg) {
  const [L, T, R, B] = cfg.area;
  const YW = 140;
  const ds = [];
  ds.push({data: pts(cfg.env[0], cfg.env[1]), fill: 'origin', backgroundColor: ENV_FILL, borderColor: ENV_LINE, borderWidth: 1.3, pointRadius: 0, order: 100});
  if (cfg.envMin) ds.push({data: pts(cfg.envMin[0], cfg.envMin[1]), fill: 'origin', backgroundColor: '#ffffff', borderColor: ENV_LINE, borderWidth: 1.3, pointRadius: 0, order: 99});
  cfg.lines.forEach((v, i) => ds.push({data: pts(cfg.lineDays, v), fill: false, borderColor: PAL[cfg.colors[i]], borderWidth: LINE_W, pointRadius: 0, order: 60 - i, borderJoinStyle: 'round'}));
  ds.push({data: pts(cfg.lineDays, cfg.mean), fill: false, borderColor: '#000', borderWidth: 1.4, pointRadius: 0, order: 20});
  cfg.obs.forEach((o, i) => ds.push({label: o.label, data: pts(o.days, o.vals), showLine: false, fill: false, pointStyle: o.m, pointRadius: 10, pointBackgroundColor: '#000', pointBorderColor: '#000', clip: false, order: 5 - i}));

  const yTitle = cfg.ytitle ? {display: true, text: cfg.ytitle, color: AX, font: {family: TICKFONT, size: 33, lineHeight: 1.2}, padding: {top: 34, bottom: 0}} : {display: false};
  const xTitle = cfg.xlab ? {display: true, text: 'day', color: AX, font: {family: TICKFONT, size: 32, lineHeight: 0.5}, padding: {top: 0, bottom: 0}} : {display: false};

  new Chart(document.getElementById(cfg.id), {
    type: 'line',
    data: {datasets: ds},
    options: {
      responsive: false, animation: false, events: [],
      layout: {padding: {left: L - YW, top: T, right: 3163 - R, bottom: 0}},
      plugins: {legend: {display: false}, tooltip: {enabled: false}, title: {display: false}},
      scales: {
        x: {type: 'linear', min: 1, max: 365,
            afterBuildTicks: s => { s.ticks = dayTicks.map(v => ({value: v})); },
            afterFit: s => { s.height = 1256 - B; },
            grid: {display: false, drawTicks: false}, border: {display: false},
            ticks: {display: cfg.xlab, autoSkip: false, maxRotation: 0, padding: 14, color: AX, font: {family: TICKFONT, size: 31}},
            title: xTitle},
        y: {type: 'linear', min: cfg.ymin, max: cfg.ymax,
            afterBuildTicks: s => { s.ticks = cfg.yticks.map(v => ({value: v})); },
            afterFit: s => { s.width = YW; },
            grid: {display: false, drawTicks: false}, border: {display: false},
            ticks: {autoSkip: false, padding: 13, color: AX, font: {family: TICKFONT, size: 31}},
            title: yTitle}
      }
    },
    plugins: [makePlugin(cfg)]
  });
}
PANELS.forEach(build);
</script>
</body></html>
